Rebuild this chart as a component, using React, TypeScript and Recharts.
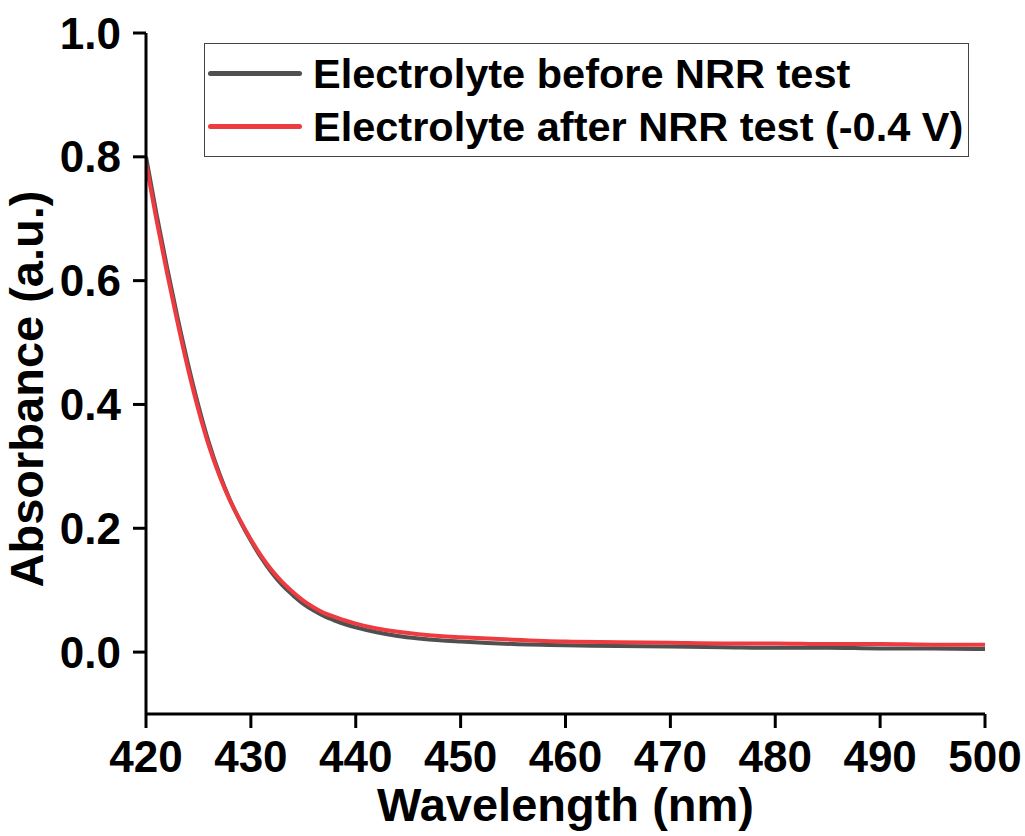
import { LineChart, Line, XAxis, YAxis, Legend } from "recharts";

const wavelengths = [
  420, 421, 422, 423, 424, 425, 426, 427, 428, 429, 430, 431, 432, 433, 434,
  435, 436, 437, 438, 439, 440, 442, 444, 446, 448, 450, 455, 460, 465, 470,
  475, 480, 485, 490, 495, 500,
];

// electrolyte before NRR test (dark grey)
const before = [
  0.8, 0.708, 0.622, 0.541, 0.466, 0.398, 0.338, 0.288, 0.246, 0.211, 0.18,
  0.152, 0.128, 0.108, 0.092, 0.078, 0.067, 0.058, 0.051, 0.045, 0.04, 0.032,
  0.026, 0.022, 0.019, 0.017, 0.013, 0.011, 0.01, 0.009, 0.008, 0.007, 0.007,
  0.006, 0.006, 0.005,
];

// electrolyte after NRR test at -0.4 V (red)
const after = [
  0.79, 0.698, 0.613, 0.533, 0.458, 0.391, 0.333, 0.285, 0.245, 0.212, 0.182,
  0.155, 0.132, 0.113, 0.097, 0.083, 0.072, 0.063, 0.057, 0.051, 0.046, 0.038,
  0.033, 0.029, 0.026, 0.024, 0.02, 0.017, 0.016, 0.015, 0.014, 0.014, 0.013,
  0.013, 0.012, 0.012,
];

const xTicks = [420, 430, 440, 450, 460, 470, 480, 490, 500];
const yTicks = [0, 0.2, 0.4, 0.6, 0.8, 1.0];

const seriesNames = [
  "Electrolyte before NRR test",
  "Electrolyte after NRR test (-0.4 V)",
];
const COLORS = ["#505050", "#EE3B40"];

const data = wavelengths.map((wl, i) => ({
  wl,
  before: before[i],
  after: after[i],
}));

const FONT = '"Liberation Sans", Arial, sans-serif';
const tickStyle = { fill: "#000", fontSize: 44, fontWeight: 700, fontFamily: FONT };

function LegendBox() {
  return (
    <div
      style={{
        border: "1.5px solid #444",
        background: "#fff",
        padding: "3px 5px 3px 3px",
        fontFamily: FONT,
        fontWeight: 700,
        fontSize: 41.5,
        lineHeight: "53px",
        color: "#000",
        whiteSpace: "nowrap",
      }}
    >
      {seriesNames.map((name, i) => (
        <div key={name} style={{ display: "flex", alignItems: "center" }}>
          <span
            style={{
              display: "inline-block",
              width: 94,
              height: 5,
              borderRadius: 3,
              background: COLORS[i],
              marginRight: 11,
            }}
          />
          <span>{name}</span>
        </div>
      ))}
    </div>
  );
}

export default function App() {
  return (
    <div style={{ position: "absolute", left: 0, top: 0, background: "#fff" }}>
      <LineChart
        width={1025}
        height={836}
        data={data}
        margin={{ top: 33, right: 40, left: 0, bottom: 0 }}
      >
        <XAxis
          dataKey="wl"
          type="number"
          domain={[420, 500]}
          ticks={xTicks}
          allowDataOverflow
          height={122}
          stroke="#000"
          strokeWidth={3}
          tickSize={14}
          tickMargin={13}
          tick={tickStyle}
          label={{
            content: ({ viewBox }: any) => (
              <text
                x={viewBox.x + viewBox.width / 2}
                y={821}
                textAnchor="middle"
                fill="#000"
                fontSize={47}
                fontWeight={700}
                fontFamily={FONT}
              >
                Wavelength (nm)
              </text>
            ),
          }}
        />
        <XAxis
          xAxisId="top"
          dataKey="wl"
          type="number"
          domain={[420, 500]}
          orientation="top"
          height={0}
          tick={false}
          tickLine={false}
          stroke="#000"
          strokeWidth={3}
        />
        <YAxis
          type="number"
          domain={[-0.1, 1.0]}
          ticks={yTicks}
          allowDataOverflow
          width={146}
          stroke="#000"
          strokeWidth={3}
          tickSize={13}
          tickMargin={12}
          tickFormatter={(v: number) => v.toFixed(1)}
          tick={tickStyle}
          label={{
            content: () => (
              <text
                x={43}
                y={389}
                transform="rotate(-90, 43, 389)"
                textAnchor="middle"
                fill="#000"
                fontSize={47}
                fontWeight={700}
                fontFamily={FONT}
              >
                Absorbance (a.u.)
              </text>
            ),
          }}
        />
        <YAxis
          yAxisId="right"
          orientation="right"
          domain={[-0.1, 1.0]}
          width={0}
          tick={false}
          tickLine={false}
          stroke="#000"
          strokeWidth={3}
        />
        <Legend
          layout="horizontal"
          verticalAlign="middle"
          align="center"
          content={() => <LegendBox />}
          wrapperStyle={{ left: 204, top: 43, width: "auto" }}
        />
        <Line
          dataKey="before"
          name={seriesNames[0]}
          type="monotone"
          stroke={COLORS[0]}
          strokeWidth={4}
          dot={false}
          isAnimationActive={false}
        />
        <Line
          dataKey="after"
          name={seriesNames[1]}
          type="monotone"
          stroke={COLORS[1]}
          strokeWidth={4}
          dot={false}
          isAnimationActive={false}
        />
      </LineChart>
    </div>
  );
}
